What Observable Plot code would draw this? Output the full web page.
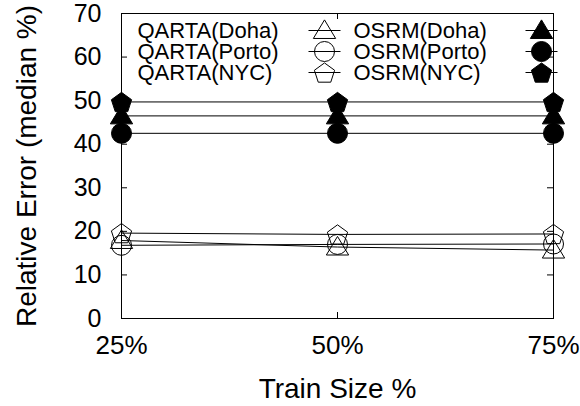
<!DOCTYPE html>
<html>
<head>
<meta charset="utf-8">
<script src="https://cdn.jsdelivr.net/npm/d3@7"></script>
<script src="https://cdn.jsdelivr.net/npm/@observablehq/plot@0.6"></script>
<style>
  html, body { margin: 0; padding: 0; background: #fff; }
  #chart { width: 580px; height: 406px; }
</style>
</head>
<body>
<div id="chart"></div>
<script>
// ---- data ----
const trainSizes = [25, 50, 75];
const xTickLabels = ["25%", "50%", "75%"];
const yTicks = [0, 10, 20, 30, 40, 50, 60, 70];

const qartaDoha  = [17.9, 16.4, 15.7];
const qartaPorto = [16.8, 17.0, 17.1];
const qartaNYC   = [19.6, 19.3, 19.4];
const osrmDoha   = [46.5, 46.5, 46.5];
const osrmPorto  = [42.5, 42.5, 42.5];
const osrmNYC    = [49.7, 49.7, 49.7];

const seriesNames = ["QARTA(Doha)", "QARTA(Porto)", "QARTA(NYC)", "OSRM(Doha)", "OSRM(Porto)", "OSRM(NYC)"];
const xLabel = "Train Size %";
const yLabel = "Relative Error (median %)";

// ---- custom symbols ----
const pentagon = {
  draw(context, size) {
    const R = Math.sqrt(size / Math.PI) * 1.12;
    for (let i = 0; i < 5; i++) {
      const a = -Math.PI / 2 + i * 2 * Math.PI / 5;
      const px = R * Math.cos(a), py = R * Math.sin(a) + R * 0.1;
      if (i === 0) context.moveTo(px, py); else context.lineTo(px, py);
    }
    context.closePath();
  }
};
const triangle = {
  draw(context, size) {
    const s = Math.sqrt(size / Math.PI) * 1.25;
    context.moveTo(0, -s);
    context.lineTo(s * 1.05, s * 0.75);
    context.lineTo(-s * 1.05, s * 0.75);
    context.closePath();
  }
};
const hline = {
  draw(context, size) {
    const L = Math.sqrt(size / Math.PI);
    context.moveTo(-L, 0);
    context.lineTo(L, 0);
  }
};

const series = [
  {name: seriesNames[0], values: qartaDoha,  symbol: triangle, r: 8.5, filled: false},
  {name: seriesNames[1], values: qartaPorto, symbol: "circle", r: 10, filled: false},
  {name: seriesNames[2], values: qartaNYC,   symbol: pentagon, r: 9.5, filled: false},
  {name: seriesNames[3], values: osrmDoha,   symbol: triangle, r: 8.5, filled: true},
  {name: seriesNames[4], values: osrmPorto,  symbol: "circle", r: 10, filled: true},
  {name: seriesNames[5], values: osrmNYC,    symbol: pentagon, r: 9.5, filled: true}
];

const W = 580, H = 406;
const mL = 121, mR = 27, mT = 13, mB = 88;
const fw = W - mL - mR, fh = H - mT - mB;
const tick = 6;
const font = "Liberation Sans, Arial, Helvetica, sans-serif";

const marks = [];

// inward ticks (mirror on all sides)
marks.push(Plot.ruleY(yTicks, {y: d => d, insetRight: fw - tick, stroke: "#000", strokeWidth: 1}));
marks.push(Plot.ruleY(yTicks, {y: d => d, insetLeft: fw - tick, stroke: "#000", strokeWidth: 1}));
marks.push(Plot.ruleX(trainSizes, {x: d => d, insetTop: fh - tick, stroke: "#000", strokeWidth: 1}));
marks.push(Plot.ruleX(trainSizes, {x: d => d, insetBottom: fh - tick, stroke: "#000", strokeWidth: 1}));

// axes text
marks.push(Plot.axisY({ticks: yTicks, tickSize: 0, tickPadding: 20, fontSize: 25, label: null, tickFormat: d => String(d)}));
marks.push(Plot.axisX({ticks: trainSizes, tickSize: 0, tickPadding: 17, fontSize: 26, label: null,
  tickFormat: d => xTickLabels[trainSizes.indexOf(d)]}));

// axis titles
marks.push(Plot.text([yLabel], {text: d => d, frameAnchor: "left", dx: -94, rotate: -90, fontSize: 28, textAnchor: "middle", lineAnchor: "middle", fill: "#000"}));
marks.push(Plot.text([xLabel], {text: d => d, frameAnchor: "bottom", dy: 71, fontSize: 28, textAnchor: "middle", lineAnchor: "middle", fill: "#000"}));

// data lines and markers
for (const s of series) {
  const rows = trainSizes.map((x, i) => ({x, y: s.values[i]}));
  marks.push(Plot.line(rows, {x: "x", y: "y", stroke: "#000", strokeWidth: 1}));
  marks.push(Plot.dot(rows, {x: "x", y: "y", symbol: s.symbol, r: s.r, fill: s.filled ? "#000" : "none", stroke: "#000", strokeWidth: 1}));
}

// legend (inside frame, two columns)
const rowDy = [17, 38, 59];
series.forEach((s, i) => {
  const col = i < 3 ? 0 : 1;
  const row = i % 3;
  const textDx = col === 0 ? 16 : 232;
  const sampleDx = col === 0 ? 203 : 420;
  const dy = rowDy[row];
  marks.push(Plot.text([s.name], {text: d => d, frameAnchor: "top-left", dx: textDx, dy, fontSize: 22, textAnchor: "start", lineAnchor: "middle", fill: "#000"}));
  marks.push(Plot.dot([s.name], {frameAnchor: "top-left", dx: sampleDx, dy, symbol: hline, r: 16, stroke: "#000", strokeWidth: 1}));
  marks.push(Plot.dot([s.name], {frameAnchor: "top-left", dx: sampleDx, dy, symbol: s.symbol, r: s.r, fill: s.filled ? "#000" : "none", stroke: "#000", strokeWidth: 1}));
});

marks.push(Plot.frame({stroke: "#000", strokeWidth: 1}));

const chart = Plot.plot({
  width: W,
  height: H,
  marginLeft: mL,
  marginRight: mR,
  marginTop: mT,
  marginBottom: mB,
  x: {domain: [25, 75], axis: null},
  y: {domain: [0, 70], axis: null},
  style: {fontFamily: font, background: "#fff", color: "#000", overflow: "visible"},
  marks
});
document.getElementById("chart").appendChild(chart);
</script>
</body>
</html>
